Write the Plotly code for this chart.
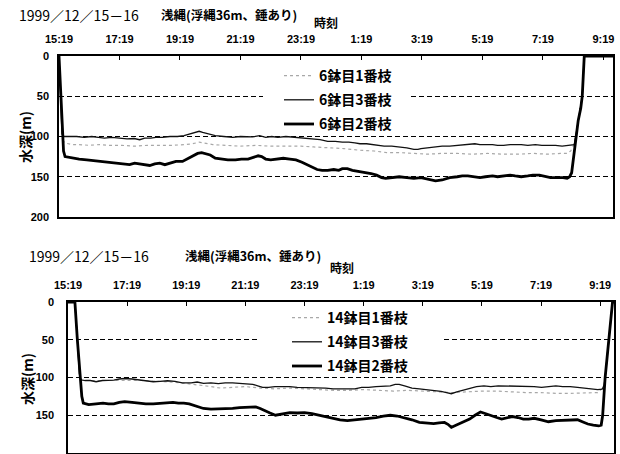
import plotly.graph_objects as go

# ---------------- data (minutes after 15:19, depth in m) ----------------
tick_vals = [0, 120, 240, 360, 480, 600, 720, 840, 960, 1080]
tick_text = ["15:19", "17:19", "19:19", "21:19", "23:19", "1:19", "3:19", "5:19", "7:19", "9:19"]
depth_ticks = [0, 50, 100, 150, 200]

# top chart: 6鉢目
top_b1_t = [0, 4, 8, 12, 25, 40, 60, 80, 100, 125, 150, 175, 200, 225, 250, 265, 278, 290, 305, 330,
            360, 390, 420, 450, 480, 505, 535, 565, 595, 625, 650, 675, 705, 730, 760, 790, 820, 850,
            880, 910, 940, 970, 995, 1008, 1015, 1020, 1025, 1030, 1035, 1038, 1040, 1042, 1099]
top_b1_d = [0, 60, 105, 108, 110, 110, 111, 110, 111, 111, 112, 111, 111, 111, 110, 109, 107, 108, 110, 111,
            112, 111, 112, 112, 112, 113, 114, 115, 117, 118, 120, 120, 121, 122, 121, 121, 122, 121,
            122, 122, 121, 122, 121, 121, 118, 112, 100, 80, 65, 50, 25, 0, 0]

top_b3_t = [0, 3, 6, 10, 20, 35, 50, 65, 78, 90, 105, 121, 135, 149, 160, 170, 182, 192, 205, 220,
            235, 248, 258, 266, 272, 278, 285, 292, 299, 310, 327, 345, 360, 372, 384, 398, 410, 422,
            434, 450, 465, 476, 490, 505, 518, 533, 548, 562, 575, 587, 597, 610, 622, 633, 645, 660,
            675, 690, 704, 712, 718, 732, 747, 760, 775, 790, 800, 811, 825, 835, 846, 860, 870, 882,
            895, 905, 917, 930, 945, 958, 970, 985, 998, 1010, 1018, 1022, 1025, 1030, 1035, 1038,
            1040, 1042, 1099]
top_b3_d = [0, 50, 97, 100, 100, 100, 101, 100, 101, 102, 101, 102, 103, 102.5, 104, 102, 102, 101, 101, 100,
            100, 99, 97, 95, 94, 93.5, 95, 96, 97, 99, 100, 101, 100, 100, 100.5, 99, 101, 100,
            101, 100, 101, 101, 102, 103, 104, 106, 106, 107, 107, 108, 109, 109, 110, 111, 112, 112,
            113, 114, 116, 116, 115, 114, 113, 112, 112, 111, 110, 110, 109, 110, 110, 110, 111, 111,
            110, 110, 110, 111, 110, 111, 111, 111, 112, 111, 111, 110, 100, 80, 65, 50,
            25, 0, 0]

top_b2_t = [0, 3, 6, 9, 12, 20, 30, 40, 55, 70, 85, 100, 115, 130, 140, 150, 160, 170, 180, 190,
            200, 210, 220, 232, 245, 255, 265, 275, 283, 292, 300, 310, 320, 335, 350, 362, 375, 385,
            395, 402, 410, 420, 432, 445, 458, 470, 482, 492, 502, 512, 522, 533, 545, 555, 562, 572,
            582, 592, 605, 619, 630, 640, 648, 660, 675, 690, 704, 718, 730, 747, 760, 775, 790, 800,
            811, 825, 835, 846, 860, 870, 882, 895, 905, 917, 930, 940, 953, 965, 975, 988, 1000,
            1008, 1013, 1017, 1021, 1025, 1030, 1035, 1038, 1040, 1042, 1099]
top_b2_d = [0, 45, 95, 118, 125, 126, 127, 128, 129, 130, 131, 132, 133, 134, 135, 133, 134, 135, 136, 134,
            133, 135, 133, 131, 131, 128, 124, 121, 120, 122, 123, 127, 128, 129, 129, 128, 128, 126,
            124, 125, 128, 129, 128, 127, 128, 129, 132, 135, 138, 141, 142, 142, 141, 142, 140, 140,
            142, 143, 144, 146, 148, 151, 152, 151, 150, 151, 152, 151, 153, 155, 154, 151, 150, 149,
            149, 150, 151, 150, 149, 150, 149, 148, 149, 150, 149, 148, 148, 150, 151, 151, 151,
            152, 150, 145, 125, 100, 80, 65, 50, 25, 0, 0]

# bottom chart: 14鉢目
bot_b1_t = [0, 14, 19, 24, 28, 40, 60, 80, 100, 120, 150, 180, 210, 240, 270, 290, 310, 330, 360, 390,
            420, 450, 480, 510, 540, 570, 600, 630, 660, 690, 720, 750, 780, 810, 840, 870, 900, 930,
            960, 990, 1020, 1050, 1075, 1088, 1090, 1098, 1105, 1108]
bot_b1_d = [0, 0, 50, 100, 104, 104, 104, 104, 103, 103, 104, 105, 106, 108, 110, 112, 114, 113, 112, 114,
            115, 114, 115, 116, 117, 117, 116, 117, 118, 117, 118, 119, 120, 119, 118, 118, 119, 120,
            120, 121, 121, 120, 120, 112, 100, 50, 0, 0]

bot_b3_t = [0, 14, 19, 23, 26, 35, 45, 57, 70, 82, 93, 104, 115, 130, 144, 158, 173, 187, 202, 217,
            232, 250, 262, 275, 290, 305, 319, 334, 348, 363, 375, 385, 395, 407, 420, 436, 450, 465,
            480, 495, 509, 523, 538, 552, 567, 582, 596, 610, 625, 640, 654, 664, 672, 683, 698, 713,
            727, 742, 757, 768, 778, 789, 800, 815, 829, 844, 858, 873, 888, 902, 917, 932, 946, 961,
            975, 990, 1004, 1019, 1034, 1048, 1063, 1075, 1084, 1088, 1090, 1098, 1105, 1108]
bot_b3_d = [0, 0, 50, 95, 103, 104, 104, 105.6, 104, 104, 103.4, 102, 101.3, 102, 103.4, 104, 105.6, 105, 104.3, 105,
            107, 107, 106, 107.8, 107, 108, 107, 107, 108, 108.6, 109, 111, 113, 113, 112, 112, 112, 113,
            113, 113, 114, 114, 115, 115, 116, 115, 113, 113, 112, 112, 111, 109, 109, 111, 114, 115,
            116, 117, 118.5, 120, 121.5, 119, 117, 114, 112, 111, 112, 111, 111, 112, 112, 111, 112, 113,
            112, 111, 112, 112, 113, 114, 115.5, 116, 115.5, 110, 100, 50, 0, 0]

bot_b2_t = [0, 14, 19, 24, 28, 31, 42, 57, 71, 82, 93, 104, 115, 130, 144, 158, 173, 187, 202, 213,
            224, 235, 246, 260, 275, 290, 304, 320, 334, 348, 363, 372, 381, 390, 399, 410, 421, 435,
            450, 465, 480, 495, 509, 523, 538, 552, 567, 582, 596, 610, 625, 640, 654, 668, 683, 698,
            713, 727, 742, 753, 764, 771, 778, 785, 793, 804, 815, 826, 837, 848, 859, 870, 880, 891,
            902, 913, 924, 935, 946, 960, 975, 990, 1004, 1019, 1034, 1045, 1055, 1066, 1077, 1082,
            1085, 1090, 1098, 1105, 1108]
bot_b2_d = [0, 0, 50, 100, 125, 134, 136, 135, 134, 135, 135, 133, 132, 133, 134, 135, 135, 134, 133, 133,
            134, 134, 135, 138, 141, 142, 142, 141, 141, 140, 140, 139, 139, 141, 144, 147, 150, 148,
            146.5, 147, 146.5, 148, 150, 152, 154, 156, 157, 156, 155, 154, 153, 151, 150, 151, 153, 156,
            159.5, 160, 161, 160, 159.5, 162, 166, 164, 161.6, 158, 155, 150, 145.7, 148, 151, 153, 155, 153,
            151.7, 153, 155, 155, 154, 156, 158.6, 157, 156.5, 156, 156, 159, 161.6, 163, 164, 163,
            150, 100, 50, 0, 0]

top_names = ["6鉢目1番枝", "6鉢目3番枝", "6鉢目2番枝"]
bot_names = ["14鉢目1番枝", "14鉢目3番枝", "14鉢目2番枝"]
title_date = "1999／12／15－16"
title_desc = "浅縄(浮縄36m、錘あり)"
x_title = "時刻"
y_title = "水深(m)"

# ---------------- styles ----------------
W, H = 620, 454
JP = "Noto Sans CJK JP"
NUM = "Liberation Sans Narrow, Liberation Sans, Arial"
styles = [dict(color="#a8a8a8", width=1.2, dash="dot"),
          dict(color="#111111", width=1.3),
          dict(color="#000000", width=2.8)]

fig = go.Figure()
for i, (t, d) in enumerate([(top_b1_t, top_b1_d), (top_b3_t, top_b3_d), (top_b2_t, top_b2_d)]):
    assert len(t) == len(d)
    fig.add_trace(go.Scatter(x=t, y=d, mode="lines", name=top_names[i], line=styles[i],
                             xaxis="x", yaxis="y", legend="legend", legendgroup="t%d" % i))
for i, (t, d) in enumerate([(bot_b1_t, bot_b1_d), (bot_b3_t, bot_b3_d), (bot_b2_t, bot_b2_d)]):
    assert len(t) == len(d)
    fig.add_trace(go.Scatter(x=t, y=d, mode="lines", name=bot_names[i], line=styles[i],
                             xaxis="x2", yaxis="y2", legend="legend2", legendgroup="b%d" % i))


def px_x(p):
    return p / W


def px_y(p):
    return 1 - p / H


xcommon = dict(side="top", tickvals=tick_vals, ticktext=tick_text, ticks="inside", ticklen=4,
               tickcolor="black", tickwidth=1, showline=True, linecolor="black", linewidth=1.5,
               mirror=True, showgrid=False, zeroline=False, automargin=False,
               tickfont=dict(family=NUM, size=11, color="black", weight="bold"), ticklabelstandoff=7)
ycommon = dict(autorange=False, range=[200, 0], tickvals=depth_ticks, showline=True, linecolor="black",
               linewidth=1.5, mirror=True, showgrid=True, gridcolor="black", gridwidth=1,
               griddash="5px,3px", zeroline=False, ticks="", automargin=False,
               tickfont=dict(family=NUM, size=11, color="black", weight="bold"))

fig.update_layout(
    template="none",
    width=W, height=H, margin=dict(l=0, r=0, t=0, b=0, pad=0),
    paper_bgcolor="white", plot_bgcolor="white",
    xaxis=dict(xcommon, domain=[px_x(59), px_x(613)], range=[0, 1099], anchor="y"),
    yaxis=dict(ycommon, domain=[px_y(217), px_y(56)], anchor="x", ticklabelstandoff=6),
    xaxis2=dict(xcommon, domain=[px_x(68), px_x(614)], range=[0, 1108], anchor="y2"),
    yaxis2=dict(ycommon, domain=[px_y(453), px_y(302)], anchor="x2", ticklabelstandoff=10),
    legend=dict(x=px_x(279), y=px_y(60), xanchor="left", yanchor="top", bgcolor="rgba(0,0,0,0)",
                borderwidth=0, traceorder="grouped", tracegroupgap=3,
                font=dict(family=JP, size=14, color="black", weight="bold")),
    legend2=dict(x=px_x(287), y=px_y(302), xanchor="left", yanchor="top", bgcolor="rgba(0,0,0,0)",
                 borderwidth=0, traceorder="grouped", tracegroupgap=3,
                 font=dict(family=JP, size=14, color="black", weight="bold")),
    showlegend=True,
)

# white masks hiding the 50 m gridline behind each legend (no data passes there)
shapes = [
    dict(type="rect", xref="paper", yref="y", x0=px_x(263), x1=px_x(410), y0=45, y1=55,
         fillcolor="white", line=dict(width=0), layer="above"),
    dict(type="rect", xref="paper", yref="y2", x0=px_x(258), x1=px_x(441), y0=45, y1=55,
         fillcolor="white", line=dict(width=0), layer="above"),
]
fig.update_layout(shapes=shapes)

ann = []
for (yt, xd, xdesc, xtime, ytime, yax, xax) in [(15, 17, 159, 326, 23, 137, 25),
                                                (256, 27, 183, 342, 267, 379, 27)]:
    ann.append(dict(text=title_date, x=px_x(xd), y=px_y(yt), xref="paper", yref="paper",
                    xanchor="left", yanchor="middle", showarrow=False,
                    font=dict(family=JP, size=14, color="black")))
    ann.append(dict(text=title_desc, x=px_x(xdesc), y=px_y(yt - 1), xref="paper", yref="paper",
                    xanchor="left", yanchor="middle", showarrow=False,
                    font=dict(family=JP, size=12.5, color="black", weight="bold")))
    ann.append(dict(text=x_title, x=px_x(xtime), y=px_y(ytime), xref="paper", yref="paper",
                    xanchor="center", yanchor="middle", showarrow=False,
                    font=dict(family=JP, size=12, color="black", weight="bold")))
    ann.append(dict(text=y_title, x=px_x(xax), y=px_y(yax), xref="paper", yref="paper",
                    xanchor="center", yanchor="middle", showarrow=False, textangle=-90,
                    font=dict(family=JP, size=14, color="black", weight="bold")))
fig.update_layout(annotations=ann)

fig.write_html("out.html")
